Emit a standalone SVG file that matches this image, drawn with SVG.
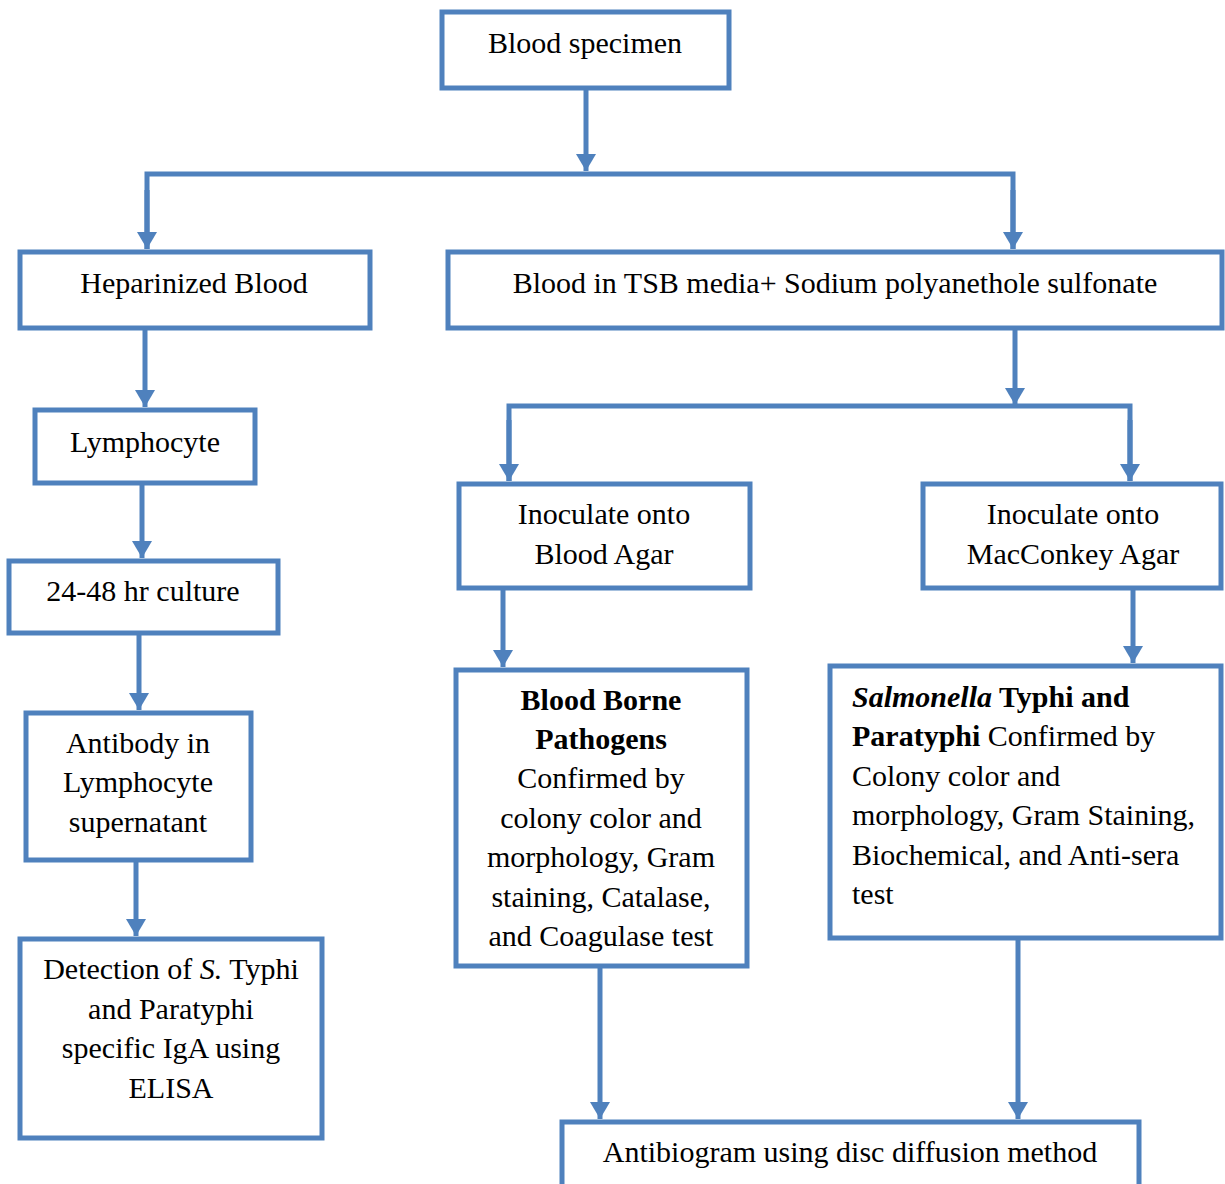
<svg xmlns="http://www.w3.org/2000/svg" width="1225" height="1184" viewBox="0 0 1225 1184">
<style>
  .box{fill:#ffffff;stroke:#4F81BD;stroke-width:5}
  .t{font-family:"Liberation Serif","Times New Roman",serif;font-size:30px;fill:#000}
  .c{text-anchor:middle}
  .con{fill:none;stroke:#4F81BD;stroke-width:5}
  .b{font-weight:bold}
  .i{font-style:italic}
</style>
<defs>
  <marker id="ah" markerUnits="userSpaceOnUse" markerWidth="18" markerHeight="20" refX="17" refY="10" orient="auto" viewBox="0 0 18 20">
    <path d="M0,0 L17,10 L0,20 z" fill="#4F81BD"/>
  </marker>
</defs>
<rect width="1225" height="1184" fill="#ffffff"/>
<g id="connectors">
  <line class="con" x1="586" y1="90" x2="586" y2="171" marker-end="url(#ah)"/>
  <polyline class="con" points="147,249 147,174 1013,174 1013,249"/>
  <line class="con" x1="147" y1="190" x2="147" y2="249" marker-end="url(#ah)"/>
  <line class="con" x1="1013" y1="190" x2="1013" y2="249" marker-end="url(#ah)"/>
  <line class="con" x1="145" y1="330" x2="145" y2="407" marker-end="url(#ah)"/>
  <line class="con" x1="142" y1="485" x2="142" y2="558" marker-end="url(#ah)"/>
  <line class="con" x1="139" y1="635" x2="139" y2="710" marker-end="url(#ah)"/>
  <line class="con" x1="136" y1="862" x2="136" y2="936" marker-end="url(#ah)"/>
  <line class="con" x1="1015" y1="330" x2="1015" y2="405" marker-end="url(#ah)"/>
  <polyline class="con" points="509,481 509,406 1130,406 1130,481"/>
  <line class="con" x1="509" y1="420" x2="509" y2="481" marker-end="url(#ah)"/>
  <line class="con" x1="1130" y1="420" x2="1130" y2="481" marker-end="url(#ah)"/>
  <line class="con" x1="503" y1="590" x2="503" y2="667" marker-end="url(#ah)"/>
  <line class="con" x1="1133" y1="590" x2="1133" y2="663" marker-end="url(#ah)"/>
  <line class="con" x1="600" y1="968" x2="600" y2="1119" marker-end="url(#ah)"/>
  <line class="con" x1="1018" y1="940" x2="1018" y2="1119" marker-end="url(#ah)"/>
</g>
<g id="n1">
  <rect class="box" x="442" y="12" width="287" height="76"/>
  <text class="t c" x="585" y="53">Blood specimen</text>
</g>
<g id="n2">
  <rect class="box" x="20" y="252" width="350" height="76"/>
  <text class="t c" x="194" y="293">Heparinized Blood</text>
</g>
<g id="n3">
  <rect class="box" x="448" y="252" width="774" height="76"/>
  <text class="t c" x="835" y="293">Blood in TSB media+ Sodium polyanethole sulfonate</text>
</g>
<g id="n4">
  <rect class="box" x="35" y="410" width="220" height="73"/>
  <text class="t c" x="145" y="452">Lymphocyte</text>
</g>
<g id="n5">
  <rect class="box" x="9" y="561" width="269" height="72"/>
  <text class="t c" x="143" y="601">24-48 hr culture</text>
</g>
<g id="n6">
  <rect class="box" x="26" y="713" width="225" height="147"/>
  <text class="t c" x="138" y="753">Antibody in</text>
  <text class="t c" x="138" y="792">Lymphocyte</text>
  <text class="t c" x="138" y="832">supernatant</text>
</g>
<g id="n7">
  <rect class="box" x="20" y="939" width="302" height="199"/>
  <text class="t c" x="171" y="979">Detection of <tspan class="i">S.</tspan> Typhi</text>
  <text class="t c" x="171" y="1019">and Paratyphi</text>
  <text class="t c" x="171" y="1058">specific IgA using</text>
  <text class="t c" x="171" y="1098">ELISA</text>
</g>
<g id="n8">
  <rect class="box" x="459" y="484" width="291" height="104"/>
  <text class="t c" x="604" y="524">Inoculate onto</text>
  <text class="t c" x="604" y="564">Blood Agar</text>
</g>
<g id="n9">
  <rect class="box" x="923" y="484" width="298" height="104"/>
  <text class="t c" x="1073" y="524">Inoculate onto</text>
  <text class="t c" x="1073" y="564">MacConkey Agar</text>
</g>
<g id="n10">
  <rect class="box" x="456" y="670" width="291" height="296"/>
  <text class="t c b" x="601" y="710">Blood Borne</text>
  <text class="t c b" x="601" y="749">Pathogens</text>
  <text class="t c" x="601" y="788">Confirmed by</text>
  <text class="t c" x="601" y="828">colony color and</text>
  <text class="t c" x="601" y="867">morphology, Gram</text>
  <text class="t c" x="601" y="907">staining, Catalase,</text>
  <text class="t c" x="601" y="946">and Coagulase test</text>
</g>
<g id="n11">
  <rect class="box" x="830" y="666" width="391" height="272"/>
  <text class="t" x="852" y="707"><tspan class="b i">Salmonella</tspan><tspan class="b"> Typhi and</tspan></text>
  <text class="t" x="852" y="746"><tspan class="b">Paratyphi</tspan> Confirmed by</text>
  <text class="t" x="852" y="786">Colony color and</text>
  <text class="t" x="852" y="825">morphology, Gram Staining,</text>
  <text class="t" x="852" y="865">Biochemical, and Anti-sera</text>
  <text class="t" x="852" y="904">test</text>
</g>
<g id="n12">
  <rect class="box" x="562" y="1122" width="577" height="70"/>
  <text class="t c" x="850" y="1162">Antibiogram using disc diffusion method</text>
</g>
</svg>
